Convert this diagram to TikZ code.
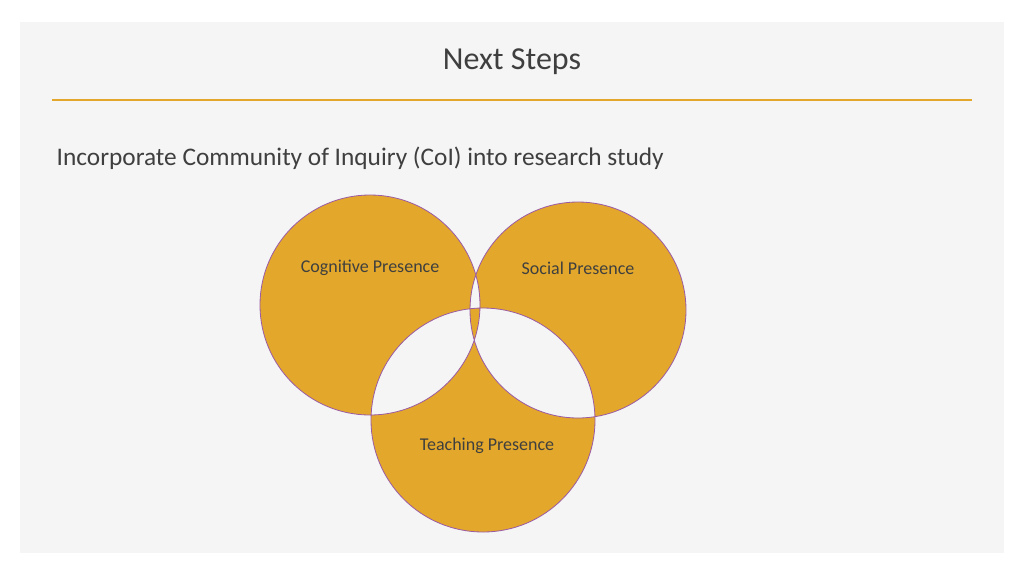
\documentclass[tikz,border=0pt]{standalone}
\usepackage{fontspec}
\setmainfont{Carlito}
\definecolor{gold}{HTML}{E3A82B}
\definecolor{panel}{HTML}{F5F5F5}
\definecolor{edge}{HTML}{9B5BA5}
\definecolor{txt}{HTML}{3F3F3F}
\begin{document}
\begin{tikzpicture}[x=0.75pt,y=-0.75pt,lbl/.style={font=\fontsize{13.5}{16}\selectfont,text=txt}]
\useasboundingbox (0,0) rectangle (1024,576);
\fill[white] (0,0) rectangle (1024,576);
\fill[panel] (20,22) rectangle (1004,553);
\node[font=\fontsize{24}{28}\selectfont,text=txt] (title) at (512,62) {Next Steps};
\draw[gold,line width=1.5pt] (52,100) coordinate (l1) -- (972,100) coordinate (l2);
\node[anchor=west,font=\fontsize{19}{22}\selectfont,text=txt] (sub) at (52,158) {Incorporate Community of Inquiry (CoI) into research study};
\fill[gold,even odd rule] (370,305) circle (110) (578,310) circle (108) (483,420) circle (112);
\draw[edge,line width=0.6pt] (370,305) circle (110) (578,310) circle (108) (483,420) circle (112);
\node[lbl] (cog) at (370,268) {Cognitive Presence};
\node[lbl] (soc) at (578,268) {Social Presence};
\node[lbl] (tea) at (487,446) {Teaching Presence};
\end{tikzpicture}
\end{document}
